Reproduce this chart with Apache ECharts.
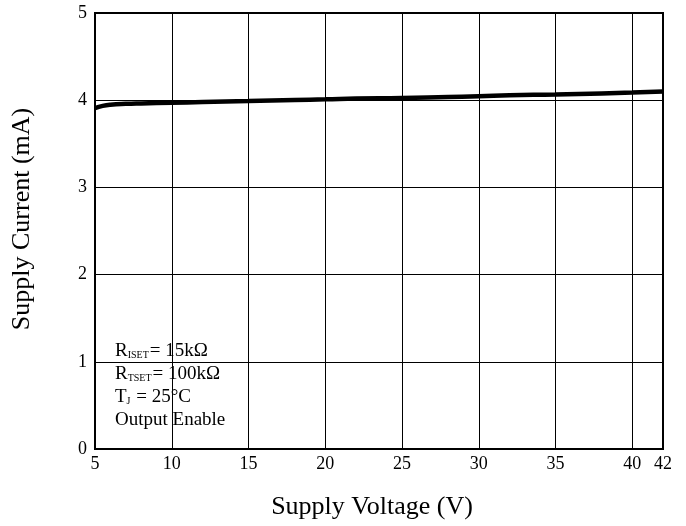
<!DOCTYPE html>
<html>
<head>
<meta charset="utf-8">
<script src="https://cdn.jsdelivr.net/npm/echarts@6/dist/echarts.min.js"></script>
<style>html,body{margin:0;padding:0;background:#fff}#c{width:686px;height:526px}</style>
</head>
<body>
<div id="c"></div>
<script>
const voltage = [5, 5.5, 6, 7, 8, 10, 12, 15, 18, 20, 22, 25, 28, 30, 32, 35, 38, 40, 42];
const current = [3.91, 3.935, 3.948, 3.958, 3.963, 3.97, 3.978, 3.99, 4.003, 4.01, 4.02, 4.025, 4.038, 4.045, 4.058, 4.065, 4.078, 4.088, 4.10];
const xTicks = [5, 10, 15, 20, 25, 30, 35, 40, 42];
const yTicks = [0, 1, 2, 3, 4, 5];
const noteLines = [
  ['R', 'ISET', '= 15kΩ'],
  ['R', 'TSET', '= 100kΩ'],
  ['T', 'J', ' = 25°C'],
  ['Output Enable', '', '']
];

const FONT = '"Liberation Serif","Times New Roman",serif';
const chart = echarts.init(document.getElementById('c'), null, {renderer: 'canvas'});

const noteText = noteLines.map(l => {
  let s = '{a|' + l[0] + '}';
  if (l[1]) s += '{b|' + l[1] + '}';
  if (l[2]) s += '{a|' + l[2] + '}';
  return s;
}).join('\n');

chart.setOption({
  animation: false,
  backgroundColor: '#fff',
  grid: {left: 95, right: 23, top: 13, bottom: 77, show: true, borderColor: '#000', borderWidth: 2, backgroundColor: 'transparent'},
  xAxis: {
    type: 'value', min: 5, max: 42, interval: 5,
    name: 'Supply Voltage (V)', nameLocation: 'middle', nameGap: 45,
    nameTextStyle: {fontFamily: FONT, fontSize: 26, color: '#000', padding: [0, 14, 0, 0]},
    axisLine: {show: true, lineStyle: {color: '#000', width: 2}},
    axisTick: {show: false},
    axisLabel: {fontFamily: FONT, fontSize: 18, color: '#000', margin: 6,
      formatter: v => xTicks.indexOf(v) >= 0 ? String(v) : ''},
    splitLine: {show: true, lineStyle: {color: '#000', width: 1}}
  },
  yAxis: {
    type: 'value', min: 0, max: 5, interval: 1,
    name: 'Supply Current (mA)', nameLocation: 'middle', nameGap: 60,
    nameTextStyle: {fontFamily: FONT, fontSize: 26, color: '#000', padding: [0, 0, 0, 24]},
    axisLine: {show: true, lineStyle: {color: '#000', width: 2}},
    axisTick: {show: false},
    axisLabel: {fontFamily: FONT, fontSize: 18, color: '#000', margin: 8,
      formatter: v => yTicks.indexOf(v) >= 0 ? String(v) : ''},
    splitLine: {show: true, lineStyle: {color: '#000', width: 1}}
  },
  series: [{
    type: 'line',
    data: voltage.map((v, i) => [v, current[i]]),
    smooth: true,
    showSymbol: false,
    lineStyle: {color: '#000', width: 4.5},
    z: 5
  }],
  graphic: [{
    type: 'group', left: 97, top: 337, z: 100,
    children: [
      {type: 'rect', shape: {x: 0, y: 0, width: 135, height: 93}, style: {fill: '#fff'}},
      {type: 'text', left: 18, top: 1, style: {
        text: noteText, fill: '#000', font: '19px ' + FONT, lineHeight: 23,
        rich: {
          a: {fontFamily: FONT, fontSize: 19, lineHeight: 23, verticalAlign: 'bottom', fill: '#000'},
          b: {fontFamily: FONT, fontSize: 10, lineHeight: 23, verticalAlign: 'bottom', fill: '#000', padding: [0, 1, 1, 0]}
        }
      }}
    ]
  }]
});
</script>
</body>
</html>
